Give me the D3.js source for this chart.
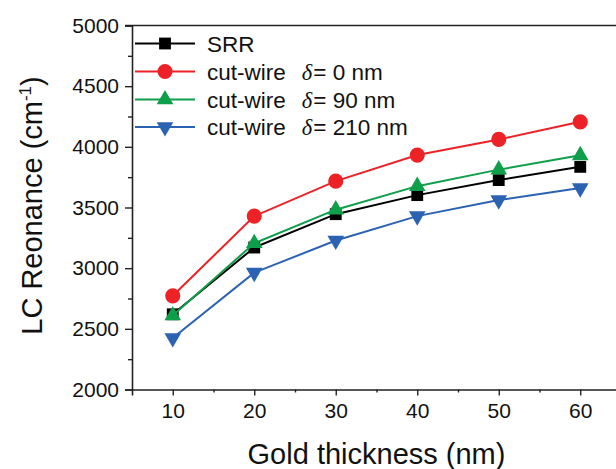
<!DOCTYPE html>
<html>
<head>
<meta charset="utf-8">
<script src="https://cdn.jsdelivr.net/npm/d3@7"></script>
<style>
  html, body { margin: 0; padding: 0; background: #fff; }
  svg { display: block; font-family: "Liberation Sans", Arial, Helvetica, sans-serif; }
</style>
</head>
<body>
<svg id="chart" width="616" height="469"></svg>
<script>
const thickness = [10, 20, 30, 40, 50, 60];
const srr      = [2620, 3170, 3445, 3602, 3726, 3835];
const cw0      = [2772, 3429, 3717, 3932, 4061, 4206];
const cw90     = [2610, 3205, 3482, 3676, 3812, 3930];
const cw210    = [2425, 2963, 3228, 3429, 3561, 3660];
const seriesNames = ["SRR", "cut-wire", "cut-wire", "cut-wire"];
const deltaLabels = [null, "0 nm", "90 nm", "210 nm"];
const xTicks = [10, 20, 30, 40, 50, 60];
const yTicks = [2000, 2500, 3000, 3500, 4000, 4500, 5000];
const xTitle = "Gold thickness (nm)";
const yTitle = "LC Reonance (cm";

const colors = ["#000000", "#ec2227", "#0f9f4a", "#2b62b2"];
const symbols = ["square", "circle", "triangle", "triangleDown"];
const values = [srr, cw0, cw90, cw210];

const svg = d3.select("#chart");
const x = d3.scaleLinear().domain([5, 65]).range([132, 621]);
const y = d3.scaleLinear().domain([2000, 5000]).range([389.5, 25.5]);

const axisColor = "#222";

// Y axis
const yAxis = svg.append("g").attr("transform", `translate(${x(5)},0)`)
  .call(d3.axisLeft(y).tickValues(yTicks).tickSize(7).tickPadding(6).tickFormat(d3.format("d")));
yAxis.select(".domain").attr("stroke", axisColor).attr("stroke-width", 1.6);
yAxis.selectAll(".tick line").attr("stroke", axisColor).attr("stroke-width", 1.4);
yAxis.selectAll(".tick text").attr("font-size", 21).attr("fill", "#111")
  .attr("font-family", "'Liberation Sans', Arial, sans-serif");
const yMinor = svg.append("g").attr("transform", `translate(${x(5)},0)`)
  .call(d3.axisLeft(y).tickValues(d3.range(2250, 5000, 500)).tickSize(4).tickFormat(""));
yMinor.select(".domain").remove();
yMinor.selectAll(".tick line").attr("stroke", axisColor).attr("stroke-width", 1.4);

// X axis
const xAxis = svg.append("g").attr("transform", `translate(0,${y(2000)})`)
  .call(d3.axisBottom(x).tickValues(xTicks).tickSize(6).tickPadding(8).tickFormat(d3.format("d")));
xAxis.select(".domain").attr("stroke", axisColor).attr("stroke-width", 1.6);
xAxis.selectAll(".tick line").attr("stroke", axisColor).attr("stroke-width", 1.4);
xAxis.selectAll(".tick text").attr("font-size", 21).attr("fill", "#111")
  .attr("font-family", "'Liberation Sans', Arial, sans-serif");
const xMinor = svg.append("g").attr("transform", `translate(0,${y(2000)})`)
  .call(d3.axisBottom(x).tickValues(d3.range(15, 65, 10)).tickSize(3).tickFormat(""));
xMinor.select(".domain").remove();
xMinor.selectAll(".tick line").attr("stroke", axisColor).attr("stroke-width", 1.4);

// top frame
svg.append("line").attr("x1", x(5) - 7).attr("x2", x(65))
  .attr("y1", y(5000)).attr("y2", y(5000))
  .attr("stroke", axisColor).attr("stroke-width", 1.6);

// axis titles
svg.append("text").attr("x", (x(5) + x(65)) / 2).attr("y", 464)
  .attr("text-anchor", "middle").attr("font-size", 29).attr("fill", "#111").text(xTitle);
const yt = svg.append("text")
  .attr("transform", `translate(42,${(y(2000) + y(5000)) / 2 - 2}) rotate(-90)`)
  .attr("text-anchor", "middle").attr("font-size", 29).attr("fill", "#111");
yt.append("tspan").text(yTitle);
yt.append("tspan").attr("font-size", 17).attr("dy", -11).text("-1");
yt.append("tspan").attr("dy", 11).text(")");

function symbolPath(kind) {
  const s = {
    square: d3.symbol(d3.symbolSquare, 140),
    circle: d3.symbol(d3.symbolCircle, 180),
    triangle: d3.symbol(d3.symbolTriangle, 120),
    triangleDown: d3.symbol(d3.symbolTriangle, 120)
  }[kind];
  return s();
}

const line = d3.line().x((d, i) => x(thickness[i])).y(d => y(d));

values.forEach((vals, k) => {
  const g = svg.append("g");
  g.append("path").datum(vals).attr("d", line).attr("fill", "none")
    .attr("stroke", colors[k]).attr("stroke-width", 2);
  g.selectAll("path.m").data(vals).join("path").attr("class", "m")
    .attr("d", symbolPath(symbols[k]))
    .attr("transform", (d, i) => `translate(${x(thickness[i])},${y(d)})` + (symbols[k] === "triangleDown" ? " rotate(180)" : ""))
    .attr("fill", colors[k]);
});

// legend
const legendY = [43.5, 71.5, 99.5, 127];
values.forEach((vals, k) => {
  const ly = legendY[k];
  svg.append("line").attr("x1", 135).attr("x2", 195).attr("y1", ly).attr("y2", ly)
    .attr("stroke", colors[k]).attr("stroke-width", 2);
  svg.append("path").attr("d", symbolPath(symbols[k]))
    .attr("transform", `translate(165,${ly})` + (symbols[k] === "triangleDown" ? " rotate(180)" : ""))
    .attr("fill", colors[k]);
  const t = svg.append("text").attr("x", 207).attr("y", ly + 8).attr("font-size", 22.5).attr("fill", "#111");
  t.append("tspan").text(seriesNames[k]);
  if (deltaLabels[k]) {
    t.append("tspan").attr("dx", 16).attr("font-family", "'Liberation Serif', 'Times New Roman', serif")
      .attr("font-style", "italic").text("δ");
    t.append("tspan").attr("dx", 1).text("= " + deltaLabels[k]);
  }
});
</script>
</body>
</html>
